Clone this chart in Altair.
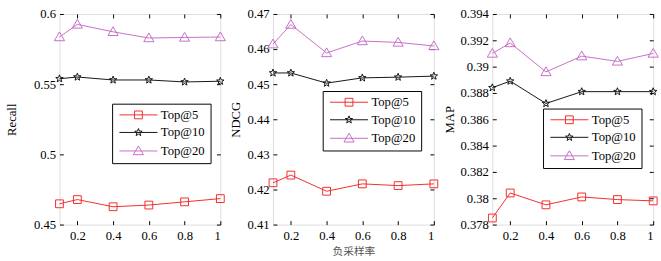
import altair as alt
import pandas as pd
import numpy as np

# ---------------- data ----------------
sampling_rate = [0.1, 0.2, 0.4, 0.6, 0.8, 1.0]
series_names = ["Top@5", "Top@10", "Top@20"]

recall_top5 = [0.4648, 0.4678, 0.4627, 0.4639, 0.4662, 0.4685]
recall_top10 = [0.5539, 0.5551, 0.5530, 0.5530, 0.5516, 0.5521]
recall_top20 = [0.5836, 0.5926, 0.5873, 0.5829, 0.5833, 0.5836]

ndcg_top5 = [0.4219, 0.4241, 0.4195, 0.4216, 0.4211, 0.4216]
ndcg_top10 = [0.4532, 0.4532, 0.4503, 0.4518, 0.4520, 0.4523]
ndcg_top20 = [0.4614, 0.4670, 0.4589, 0.4623, 0.4619, 0.4609]

map_top5 = [0.3785, 0.3804, 0.3795, 0.3801, 0.3799, 0.3798]
map_top10 = [0.3884, 0.3889, 0.3872, 0.3881, 0.3881, 0.3881]
map_top20 = [0.3910, 0.3918, 0.3896, 0.3908, 0.3904, 0.3910]

x_ticks = [0.2, 0.4, 0.6, 0.8, 1.0]
recall_ticks = [0.45, 0.5, 0.55, 0.6]
ndcg_ticks = [0.41, 0.42, 0.43, 0.44, 0.45, 0.46, 0.47]
map_ticks = [0.378, 0.38, 0.382, 0.384, 0.386, 0.388, 0.39, 0.392, 0.394]

x_label = "负采样率"
colors = ["#f22b2b", "#111111", "#c46ec4"]

# ---------------- marker shapes ----------------
def poly_path(pts, dx=0.0):
    s = "M" + "L".join(f"{x + dx:.3f},{y:.3f}" for x, y in pts) + "Z"
    return s

square_pts = [(-1, -1), (1, -1), (1, 1), (-1, 1)]
tri_pts = [(0, -1.3), (1.3, 0.95), (-1.3, 0.95)]
star_pts = []
for k in range(10):
    r = 1.0 if k % 2 == 0 else 0.42
    a = -np.pi / 2 + k * np.pi / 5
    star_pts.append((r * np.cos(a), r * np.sin(a)))

marker_pts = [square_pts, star_pts, tri_pts]
marker_paths = [poly_path(p) for p in marker_pts]
legend_paths = ["M-1,0H8.75" + poly_path(p, 3.875) for p in marker_pts]

FONT = "Liberation Serif, Times New Roman, serif"
CJK = "Noto Sans CJK SC, sans-serif"


def make_panel(vals, yticks, ytitle, legend_x, legend_y, extent, tpad, xtitle=None):
    rows = []
    for name, v in zip(series_names, vals):
        for xv, yv in zip(sampling_rate, v):
            rows.append({"rate": xv, "value": yv, "series": name})
    df = pd.DataFrame(rows)
    ydom = [yticks[0], yticks[-1]]
    xscale = alt.Scale(domain=[0.1, 1.0], nice=False, zero=False)
    yscale = alt.Scale(domain=ydom, nice=False, zero=False)
    cscale = alt.Scale(domain=series_names, range=colors)

    xaxis_kwargs = dict(orient="bottom", values=x_ticks, format="~g", offset=-4,
                        tickSize=4, tickColor="black", labelPadding=5, domain=False,
                        grid=False, labelFontSize=13, labelFont=FONT,
                        labelColor="black")
    if xtitle:
        xaxis_kwargs.update(title=xtitle, titleFontSize=11, titleFontWeight="normal",
                            titleFont=CJK, titleColor="#555555",
                            titlePadding=4)
    else:
        xaxis_kwargs.update(title=None)

    lines = alt.Chart(df).mark_line(strokeWidth=1).encode(
        x=alt.X("rate:Q", scale=xscale, axis=alt.Axis(**xaxis_kwargs)),
        y=alt.Y("value:Q", scale=yscale,
                axis=alt.Axis(orient="left", values=yticks, format="~g", offset=-4,
                              tickSize=4, tickColor="black", labelPadding=4,
                              domain=False, grid=False, labelFontSize=13,
                              labelFont=FONT, labelColor="black",
                              minExtent=extent, maxExtent=extent,
                              title=ytitle, titleFont=FONT, titleFontSize=13,
                              titleFontWeight="normal", titlePadding=tpad,
                              titleColor="black")),
        color=alt.Color("series:N", scale=cscale, legend=None),
        detail="series:N",
    )

    points = alt.Chart(df).mark_point(filled=False, strokeWidth=1, size=64,
                                       opacity=1).encode(
        x=alt.X("rate:Q", scale=xscale,
                axis=alt.Axis(orient="top", values=x_ticks, offset=-4, tickSize=4,
                              tickColor="black", labels=False, domain=False,
                              grid=False, title=None)),
        y=alt.Y("value:Q", scale=yscale,
                axis=alt.Axis(orient="right", values=yticks, offset=-4, tickSize=4,
                              tickColor="black", labels=False, domain=False,
                              grid=False, title=None)),
        color=alt.Color("series:N", scale=cscale, legend=None),
        shape=alt.Shape("series:N",
                        scale=alt.Scale(domain=series_names, range=marker_paths),
                        legend=None),
    )

    legend_layer = alt.Chart(df).transform_filter("false").mark_point(
        filled=False, strokeWidth=1, opacity=1
    ).encode(
        color=alt.Color("series:N", scale=cscale,
                        legend=alt.Legend(orient="none", legendX=legend_x,
                                          legendY=legend_y, title=None,
                                          strokeColor="black", fillColor="white",
                                          padding=5, rowPadding=4,
                                          symbolSize=64, symbolStrokeWidth=1,
                                          labelOffset=32, labelFontSize=13,
                                          labelFont=FONT, labelColor="black",
                                          cornerRadius=0, symbolFillColor="transparent")),
        shape=alt.Shape("series:N",
                        scale=alt.Scale(domain=series_names, range=legend_paths)),
    )

    return alt.layer(lines, points, legend_layer).resolve_axis(
        x="independent", y="independent"
    ).resolve_scale(shape="independent", color="independent").properties(
        width=165, height=216
    )


p1 = make_panel([recall_top5, recall_top10, recall_top20], recall_ticks, "Recall",
                54, 92, extent=41, tpad=5)
p2 = make_panel([ndcg_top5, ndcg_top10, ndcg_top20], ndcg_ticks, "NDCG",
                51, 79, extent=31, tpad=4, xtitle=x_label)
p3 = make_panel([map_top5, map_top10, map_top20], map_ticks, "MAP",
                52, 97, extent=37, tpad=4)

chart = alt.hconcat(p1, p2, p3, spacing=1).resolve_scale(
    color="independent", shape="independent"
).properties(
    padding={"left": 5, "top": 4, "right": 0, "bottom": 0}
).configure_view(stroke="black", strokeWidth=1).configure(background="white")

chart.save("out.html", embed_options={"renderer": "svg", "actions": False})
